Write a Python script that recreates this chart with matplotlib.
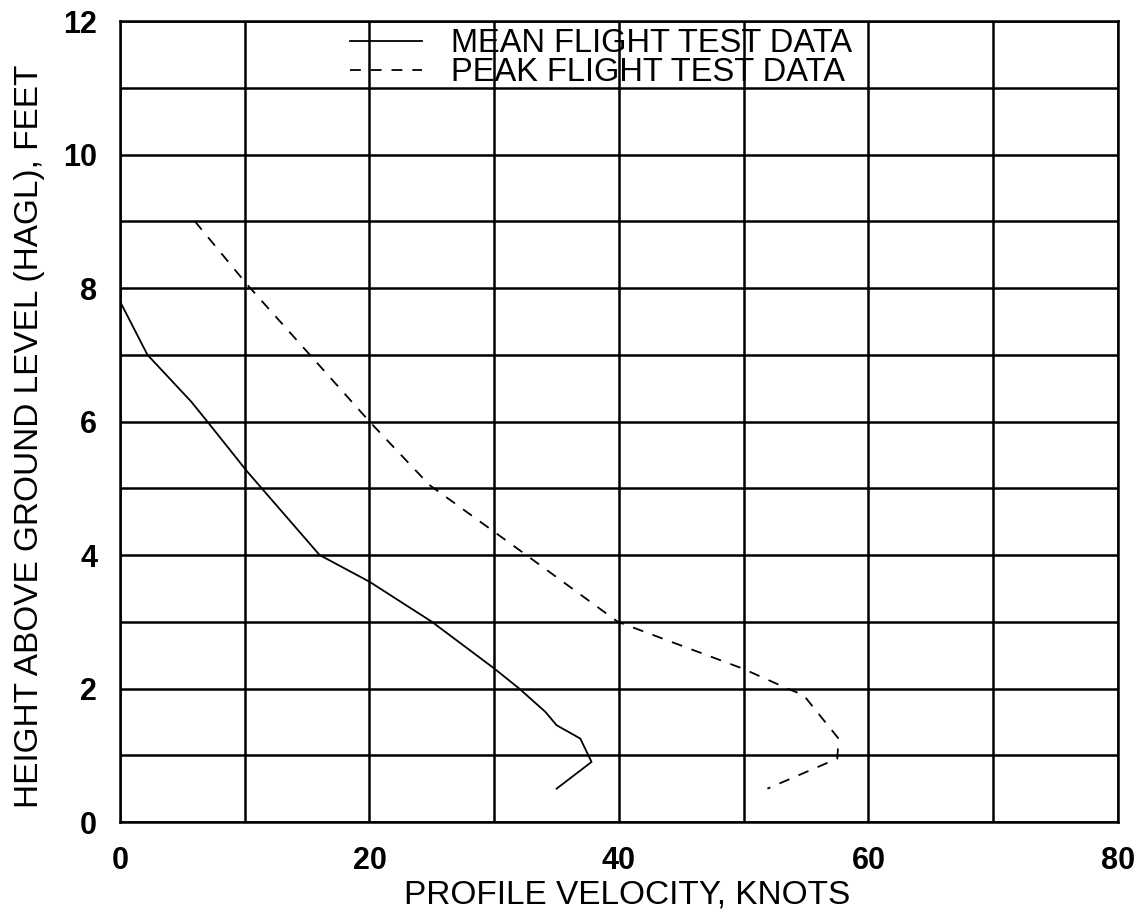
import numpy as np
import matplotlib
matplotlib.use("Agg")
import matplotlib.pyplot as plt

plt.rcParams.update({"font.family": ["Liberation Sans", "DejaVu Sans"]})

# mean flight test data (velocity knots, height ft)
mean_vel = [0.0, 2.2, 5.7, 7.0, 10.2, 16.0, 20.0, 25.0, 30.0, 32.0, 34.1, 35.0, 36.9, 37.8, 35.0]
mean_hgt = [7.8, 7.0, 6.3, 6.0, 5.25, 4.0, 3.6, 3.0, 2.3, 2.0, 1.65, 1.45, 1.25, 0.9, 0.5]

# peak flight test data
peak_vel = [6.0, 10.2, 20.0, 24.8, 32.2, 39.9, 49.9, 53.5, 54.8, 57.6, 57.5, 51.9]
peak_hgt = [9.0, 8.05, 6.0, 5.05, 4.05, 3.0, 2.3, 2.0, 1.9, 1.25, 0.95, 0.5]

xticks = [0, 20, 40, 60, 80]
yticks = [0, 2, 4, 6, 8, 10, 12]

fig = plt.figure(figsize=(11.45, 9.16), dpi=100)
ax = fig.add_axes([0.1048, 0.1026, 0.8716, 0.8744])

ax.plot(mean_vel, mean_hgt, "-", color="black", lw=1.3, label="MEAN FLIGHT TEST DATA")
ax.plot(peak_vel, peak_hgt, "--", color="black", lw=1.3, dashes=(6, 5.5),
        label="PEAK FLIGHT TEST DATA")

ax.set_xlim(0, 80)
ax.set_ylim(0, 12)
ax.set_xticks(np.arange(0, 81, 10))
ax.set_xticklabels([str(v) if v in xticks else "" for v in range(0, 81, 10)])
ax.set_yticks(np.arange(0, 13, 1))
ax.set_yticklabels([str(v) if v in yticks else "" for v in range(13)])
ax.grid(True, color="black", lw=1.8)
ax.tick_params(length=0, labelsize=22)
ax.tick_params(axis="x", pad=17)
ax.tick_params(axis="y", pad=16.5)
for lab in ax.get_xticklabels() + ax.get_yticklabels():
    lab.set_fontweight("bold")
for s in ax.spines.values():
    s.set_linewidth(1.8)

ax.set_xlabel("PROFILE VELOCITY, KNOTS", fontsize=24)
ax.xaxis.set_label_coords(0.508, -0.072)
ax.set_ylabel("HEIGHT ABOVE GROUND LEVEL (HAGL), FEET", fontsize=24)
ax.yaxis.set_label_coords(-0.075, 0.482)

ax.legend(loc="upper left", bbox_to_anchor=(0.2305, 0.991), frameon=False,
          fontsize=23.5, handlelength=2.2, handletextpad=0.9, labelspacing=-0.06,
          borderpad=0, borderaxespad=0)

fig.savefig("out.png", dpi=100)
